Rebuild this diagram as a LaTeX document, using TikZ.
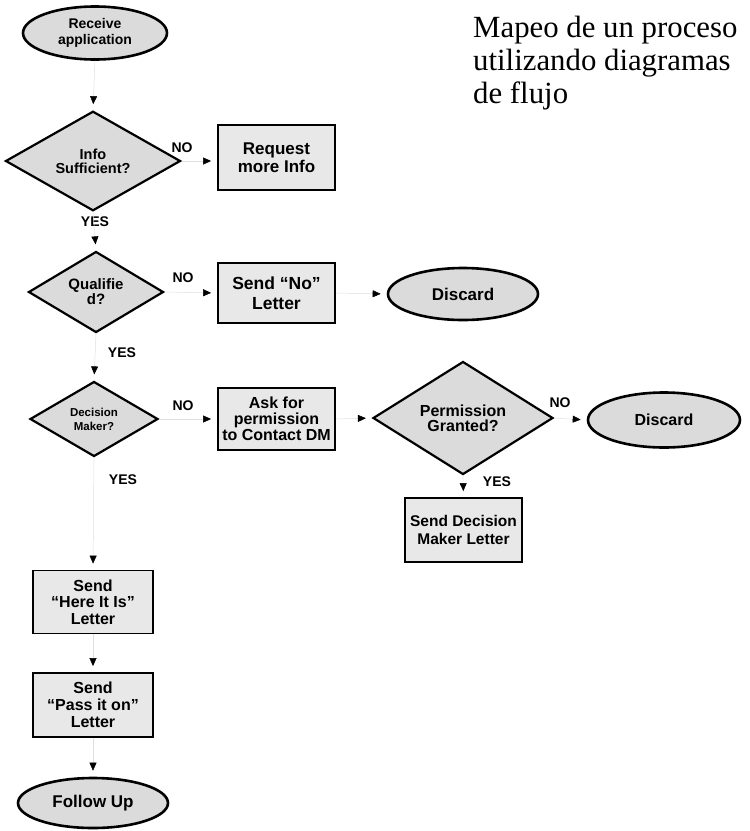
\documentclass[tikz,border=0pt]{standalone}
\usepackage{fontspec}
\setmainfont{Liberation Serif}
\setsansfont{Liberation Sans}
\usetikzlibrary{shapes.geometric,arrows.meta}
\newcommand{\nfs}[2]{\sffamily\bfseries\fontsize{#1}{#2}\selectfont}
\tikzset{
 box/.style={draw=black, line width=1.8pt, fill=gray!18, minimum width=117pt, inner sep=0pt, align=center},
 dia/.style={diamond, draw=black, line width=2.2pt, fill=gray!28, inner sep=0pt, align=center},
 ell/.style={ellipse, draw=black, line width=2.6pt, fill=gray!28, inner sep=0pt, align=center},
 lbl/.style={font=\nfs{14}{14}, inner sep=0pt},
 ttl/.style={font=\fontsize{30.8}{33}\selectfont, inner sep=0pt, anchor=base west},
 conn/.style={draw=gray!25, line width=0.5pt, -{Triangle[black,length=8pt,width=7pt]}, shorten >=6pt},
}
\begin{document}
\begin{tikzpicture}[x=1pt,y=-1pt]
\useasboundingbox (0,0) rectangle (750,831);
% title
\node[ttl] (t1) at (473,37) {Mapeo de un proceso};
\node[ttl] (t2) at (473,70) {utilizando diagramas};
\node[ttl] (t3) at (473,103) {de flujo};
% nodes
\node[ell, minimum width=144pt, minimum height=53pt, font=\nfs{14}{16}] (recv) at (95,33) {Receive\\application};
\node[dia, minimum width=175pt, minimum height=97pt, font=\nfs{14.5}{14}] (info) at (93,161) {Info\\Sufficient?};
\node[box, minimum height=65pt, font=\nfs{17}{18}] (req) at (276.5,157.5) {Request\\more Info};
\node[dia, minimum width=135pt, minimum height=79pt, font=\nfs{15}{15}] (qual) at (96,292) {Qualifie\\d?};
\node[box, minimum height=60pt, font=\nfs{17.5}{20}] (sendno) at (276.5,293) {Send ``No''\\Letter};
\node[ell, minimum width=150pt, minimum height=52pt, font=\nfs{17}{17}] (disc1) at (463,294) {Discard};
\node[dia, minimum width=128pt, minimum height=75pt, font=\nfs{11.5}{14}] (dm) at (94,419) {Decision\\Maker?};
\node[box, minimum height=62pt, font=\nfs{16}{16}] (ask) at (276.5,419) {Ask for\\permission\\to Contact DM};
\node[dia, minimum width=180pt, minimum height=103pt, font=\nfs{16}{15}] (perm) at (463,418) {Permission\\Granted?};
\node[ell, minimum width=152pt, minimum height=55pt, font=\nfs{16}{16}] (disc2) at (664,420) {Discard};
\node[box, minimum height=64pt, font=\nfs{15.5}{18}] (sdml) at (463.5,530) {Send Decision\\Maker Letter};
\node[box, minimum width=120pt, minimum height=63pt, font=\nfs{16}{16.5}] (here) at (93,602) {Send\\``Here It Is''\\Letter};
\node[box, minimum width=120pt, minimum height=64pt, font=\nfs{16}{17}] (pass) at (93,705) {Send\\``Pass it on''\\Letter};
\node[ell, minimum width=150pt, minimum height=50pt, font=\nfs{17}{17}] (follow) at (93,803) {Follow Up};
% labels
\node[lbl] (no1) at (182,148) {NO};
\node[lbl] (yes1) at (95,222) {YES};
\node[lbl] (no2) at (183,278) {NO};
\node[lbl] (yes2) at (122,353) {YES};
\node[lbl] (no3) at (183,406) {NO};
\node[lbl] (yes3) at (123,480) {YES};
\node[lbl] (no4) at (560,403) {NO};
\node[lbl] (yes4) at (497,482) {YES};
% connectors
\draw[conn] (recv.south) -- (info.north);
\draw[conn] (info.east) -- (info.east -| req.west);
\draw[conn] (info.south) -- (qual.north);
\draw[conn] (qual.east) -- (sendno.west);
\draw[conn] (sendno.east) -- (disc1.west);
\draw[conn] (qual.south) -- (dm.north);
\draw[conn] (dm.east) -- (ask.west);
\draw[conn] (ask.east) -- (perm.west);
\draw[conn] (perm.east) -- (disc2.west);
\draw[conn] (perm.south) -- (sdml.north);
\draw[conn] (dm.south) -- (here.north);
\draw[conn] (here.south) -- (pass.north);
\draw[conn] (pass.south) -- (follow.north);
\end{tikzpicture}
\end{document}
